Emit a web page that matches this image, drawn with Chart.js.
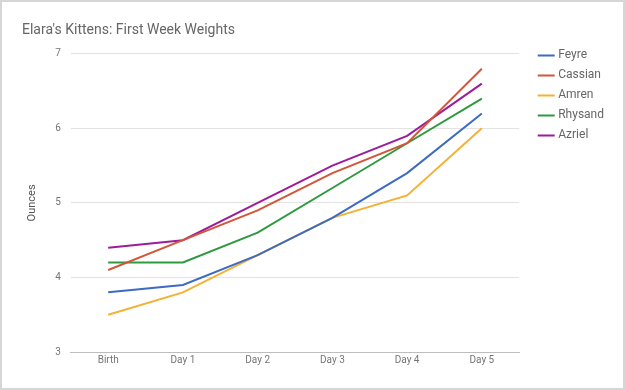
<!DOCTYPE html>
<html>
<head>
<meta charset="utf-8">
<script src="https://cdn.jsdelivr.net/npm/chart.js@4"></script>
<style>
  body { margin: 0; background: #fff; }
  #wrap { width: 625px; height: 390px; box-sizing: border-box; border: 2px solid #d6d6d6; position: relative; }
</style>
</head>
<body>
<div id="wrap"><canvas id="myChart" width="621" height="386"></canvas></div>
<script>
// days and kitten weights (ounces)
const days = ["Birth", "Day 1", "Day 2", "Day 3", "Day 4", "Day 5"];
const feyre = [3.8, 3.9, 4.3, 4.8, 5.4, 6.2];
const cassian = [4.1, 4.5, 4.9, 5.4, 5.8, 6.8];
const amren = [3.5, 3.8, 4.3, 4.8, 5.1, 6.0];
const rhysand = [4.2, 4.2, 4.6, 5.2, 5.8, 6.4];
const azriel = [4.4, 4.5, 5.0, 5.5, 5.9, 6.6];
const yTicks = [3, 4, 5, 6, 7];

function line(label, data, color) {
  return {
    label: label,
    data: data,
    borderColor: color,
    backgroundColor: color,
    borderWidth: 2,
    pointRadius: 0,
    tension: 0
  };
}

// make the legend wider so the plot stops short of it, then nudge the items right
var legendGap = {
  id: "legendGap",
  beforeInit: function (chart) {
    var fit = chart.legend.fit;
    chart.legend.fit = function () {
      fit.bind(chart.legend)();
      this.width += 22;
    };
  },
  beforeDraw: function (chart) {
    chart.legend.left += 13;
  }
};

Chart.defaults.font.family = "Roboto, 'Noto Sans', sans-serif";
Chart.defaults.color = "#757575";

new Chart("myChart", {
  type: "line",
  data: {
    labels: days,
    datasets: [
      line("Feyre", feyre, "#3d6bc4"),
      line("Cassian", cassian, "#d2563a"),
      line("Amren", amren, "#f5b133"),
      line("Rhysand", rhysand, "#2e9a3e"),
      line("Azriel", azriel, "#9c1d9c")
    ]
  },
  options: {
    responsive: false,
    animation: false,
    layout: { padding: { left: 20, right: 0, top: 8, bottom: 20 } },
    plugins: {
      title: {
        display: true,
        text: "Elara's Kittens: First Week Weights",
        align: "start",
        color: "#666",
        font: { size: 14, weight: "normal" },
        padding: { top: 12, bottom: 15 }
      },
      legend: {
        position: "right",
        align: "start",
        title: { display: true, text: " ", font: { size: 12 }, padding: { top: 17, bottom: 0 } },
        labels: {
          usePointStyle: true,
          pointStyle: "line",
          boxWidth: 12,
          padding: 8,
          color: "#666",
          font: { size: 12 }
        }
      },
      tooltip: { enabled: false }
    },
    scales: {
      x: {
        offset: true,
        grid: { display: false, drawTicks: false },
        border: { color: "#bdbdbd" },
        ticks: { font: { size: 10 }, padding: 2 }
      },
      y: {
        min: yTicks[0],
        max: yTicks[yTicks.length - 1],
        afterBuildTicks: function (axis) {
          axis.ticks = yTicks.map(function (v) { return { value: v }; });
        },
        grid: { color: "#e3e3e3", drawTicks: false },
        border: { display: false },
        ticks: { font: { size: 10 }, padding: 10 },
        title: {
          display: true,
          text: "Ounces",
          color: "#555",
          font: { size: 11 },
          padding: { bottom: 6 }
        }
      }
    }
  },
  plugins: [legendGap]
});
</script>
</body>
</html>
